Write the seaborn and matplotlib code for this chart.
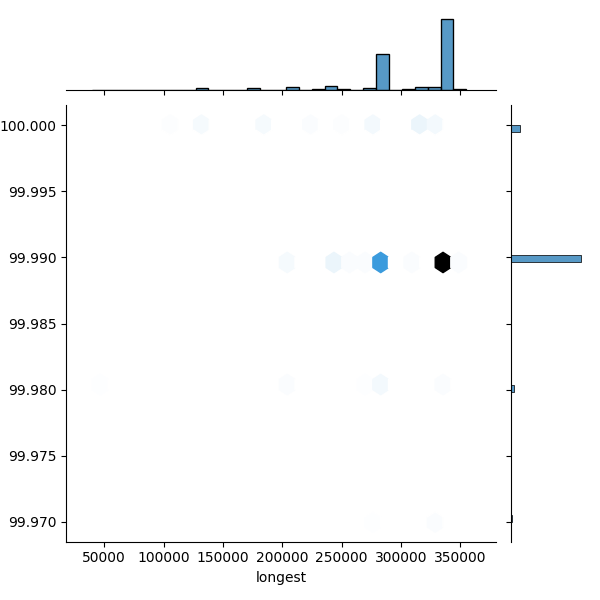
import matplotlib
matplotlib.use("Agg")
import seaborn as sns
import pandas as pd
import numpy as np
import matplotlib.pyplot as plt

longest_vals = [40000, 100000, 130000, 180000, 230000, 245000, 280000, 312000, 330000,
                205000, 238000, 255000, 270000, 288000, 305000, 338000, 355000,
                40000, 205000, 275000, 288000, 338000,
                278000, 330000]
pct_vals = [100.0]*9 + [99.99]*8 + [99.98]*5 + [99.97]*2
counts = [1, 4, 10, 10, 6, 4, 12, 20, 12,
          10, 20, 6, 6, 180, 6, 400, 5,
          2, 6, 3, 12, 6,
          3, 6]

df = pd.DataFrame({"longest": np.repeat(longest_vals, counts),
                   "pct": np.repeat(pct_vals, counts)})
g = sns.jointplot(data=df, x="longest", y="pct", kind="hex", height=6,
                  joint_kws=dict(gridsize=24))
g.ax_joint.set_ylabel("")
g.ax_joint.set_xlim(18000, 380000)
g.ax_joint.yaxis.set_major_formatter(matplotlib.ticker.FormatStrFormatter("%.3f"))
g.figure.set_size_inches(6, 6)
g.figure.savefig("out.png", dpi=100)
